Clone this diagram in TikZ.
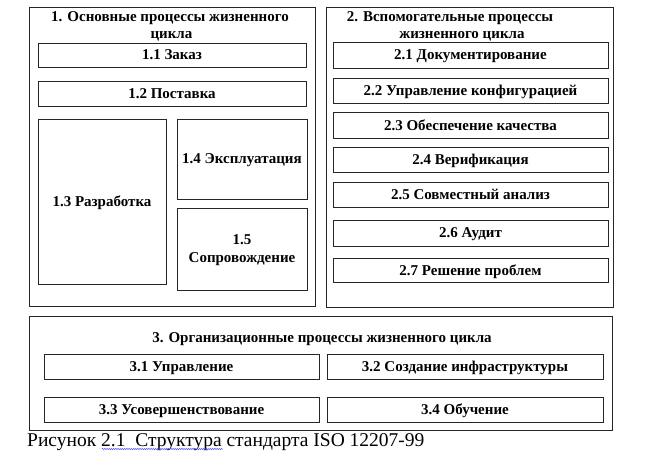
\documentclass[tikz,border=0pt]{standalone}
\usepackage{fontspec}
\setmainfont{Liberation Serif}[BoldFont={Liberation Serif Bold}]
\usetikzlibrary{decorations.pathmorphing}
\begin{document}
\begin{tikzpicture}[x=1pt,y=-1pt,
  boxfont/.style={font=\bfseries\fontsize{15}{17}\selectfont},
  outerbox/.style={draw=black!85, line width=0.9pt, inner sep=0pt},
  procbox/.style={draw=black!85, line width=0.9pt, inner sep=0pt, boxfont, align=center, text depth=0.5pt},
  titletext/.style={boxfont, inner sep=0pt, anchor=base},
]
\useasboundingbox (0,0) rectangle (646,460);
\fill[white] (0,0) rectangle (646,460);
% group 1
\node[outerbox, minimum width=286pt, minimum height=299pt] (g1) at (172,156.5) {};
\node[titletext] (t1a) at (170,22) {1. Основные процессы жизненного};
\node[titletext] (t1b) at (171.5,38.5) {цикла};
\node[procbox, minimum width=268pt, minimum height=24pt] (p11) at (172,55) {1.1 Заказ};
\node[procbox, minimum width=268pt, minimum height=25pt] (p12) at (172,93.5) {1.2 Поставка};
\node[procbox, minimum width=128pt, minimum height=165pt] (p13) at (102,201.5) {1.3 Разработка};
\node[procbox, minimum width=130pt, minimum height=80pt] (p14) at (242,159) {1.4 Эксплуатация};
\node[procbox, minimum width=130pt, minimum height=82pt, font=\bfseries\fontsize{15}{18.5}\selectfont] (p15) at (242,249) {1.5\\Сопровождение};
% group 2
\node[outerbox, minimum width=287pt, minimum height=300pt] (g2) at (469.5,157) {};
\node[titletext] (t2a) at (450,22) {2. Вспомогательные процессы};
\node[titletext] (t2b) at (462,38.5) {жизненного цикла};
\node[procbox, minimum width=275pt, minimum height=26pt] (p21) at (470.5,55) {2.1 Документирование};
\node[procbox, minimum width=275pt, minimum height=25pt] (p22) at (470.5,90.5) {2.2 Управление конфигурацией};
\node[procbox, minimum width=275pt, minimum height=26pt] (p23) at (470.5,125) {2.3 Обеспечение качества};
\node[procbox, minimum width=275pt, minimum height=25pt] (p24) at (470.5,159.5) {2.4 Верификация};
\node[procbox, minimum width=275pt, minimum height=25pt] (p25) at (470.5,194.5) {2.5 Совместный анализ};
\node[procbox, minimum width=275pt, minimum height=26pt] (p26) at (470.5,233) {2.6 Аудит};
\node[procbox, minimum width=275pt, minimum height=24pt] (p27) at (470.5,270) {2.7 Решение проблем};
% group 3
\node[outerbox, minimum width=583pt, minimum height=114pt] (g3) at (320.5,373) {};
\node[titletext] (t3) at (322,342) {3. Организационные процессы жизненного цикла};
\node[procbox, minimum width=275pt, minimum height=25pt] (p31) at (181.5,366.5) {3.1 Управление};
\node[procbox, minimum width=276pt, minimum height=25pt] (p32) at (465,366.5) {3.2 Создание инфраструктуры};
\node[procbox, minimum width=275pt, minimum height=25pt] (p33) at (181.5,409.5) {3.3 Усовершенствование};
\node[procbox, minimum width=276pt, minimum height=25pt] (p34) at (465,409.5) {3.4 Обучение};
% caption
\node[anchor=base west, inner sep=0pt, font=\fontsize{19.5}{21}\selectfont] (cap) at (27,446) {Рисунок 2.1\ \ Структура стандарта ISO 12207-99};
\coordinate (ulA) at (102,449);
\coordinate (ulB) at (223,449);
\draw[blue!70!white, line width=0.5pt, decorate, decoration={snake, amplitude=0.6pt, segment length=2.2pt}] (ulA) -- (ulB);
\end{tikzpicture}
\end{document}
